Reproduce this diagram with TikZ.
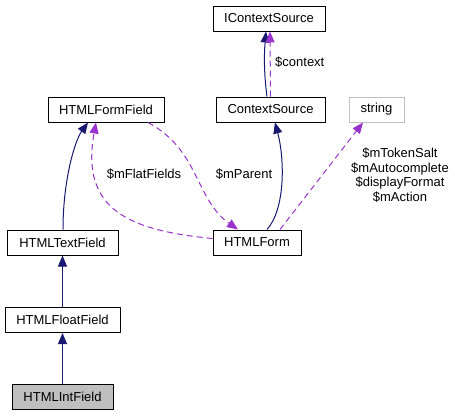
\documentclass[tikz,border=0pt]{standalone}
\usepackage{fontspec}
\setmainfont{Liberation Sans}
\usetikzlibrary{arrows.meta}
\definecolor{inhblue}{HTML}{191970}
\definecolor{usepurple}{HTML}{9A32CD}
\definecolor{boxgrey}{HTML}{BFBFBF}

\begin{document}
\begin{tikzpicture}[x=1pt,y=-1pt,
  cls/.style={draw,line width=1pt,minimum height=25pt,inner sep=0pt,font=\fontsize{13}{15}\selectfont},
  lbl/.style={inner sep=0pt,align=center,font=\fontsize{13}{14.7}\selectfont},
  inh/.style={draw=inhblue,line width=1pt,-{Triangle[length=11pt,width=9pt]}},
  use/.style={draw=usepurple,line width=1pt,dash pattern=on 6pt off 4pt,-{Triangle[length=11pt,width=9pt]}}]
  \useasboundingbox (0,0) rectangle (455,416);
  % classes
  \node[cls,minimum width=112pt] (ics) at (269,18.5) {IContextSource};
  \node[cls,minimum width=116pt] (ff) at (106,109.5) {HTMLFormField};
  \node[cls,minimum width=109pt] (cs) at (270.5,109.5) {ContextSource};
  \node[cls,draw=boxgrey,minimum width=55pt] (str) at (376.5,109.5) {string};
  \node[cls,minimum width=111pt] (tf) at (62.5,242.5) {HTMLTextField};
  \node[cls,minimum width=88pt] (form) at (257,242.5) {HTMLForm};
  \node[cls,minimum width=115pt] (flt) at (62.5,320) {HTMLFloatField};
  \node[cls,fill=boxgrey,minimum width=101pt] (int) at (62.5,396.5) {HTMLIntField};
  % inheritance
  \draw[inh] ([xshift=-3.5pt]cs.north) .. controls +(-3,-22) and +(-2,24) .. ([xshift=-3pt]ics.south);
  \draw[inh] ([xshift=0.5pt]tf.north) .. controls +(0,-50) and +(-13,18) .. ([xshift=-18pt]ff.south);
  \draw[inh] ([xshift=10pt]form.north) .. controls +(18,-20) and +(10,38) .. ([xshift=4.5pt]cs.south);
  \draw[inh] (flt) -- (tf);
  \draw[inh] (int) -- (flt);
  % usage
  \draw[use] (cs.north) -- ([xshift=1pt]ics.south);
  \draw[use] ([yshift=4pt]form.west) .. controls +(-82,-8) and +(-16,88) .. ([xshift=-10pt]ff.south);
  \draw[use] ([xshift=42pt]ff.south) .. controls +(52,28) and +(-43,-30) .. ([xshift=-19pt]form.north);
  \draw[use] ([xshift=23pt]form.north) -- ([xshift=-13.5pt]str.south);
  % labels
  \node[lbl,anchor=west] (lcontext) at (275,62) {\$context};
  \node[lbl] (lflat) at (144,174) {\$mFlatFields};
  \node[lbl] (lparent) at (244,174) {\$mParent};
  \node[lbl] (lstr) at (400,175) {\$mTokenSalt\\\$mAutocomplete\\\$displayFormat\\\$mAction};
\end{tikzpicture}
\end{document}
